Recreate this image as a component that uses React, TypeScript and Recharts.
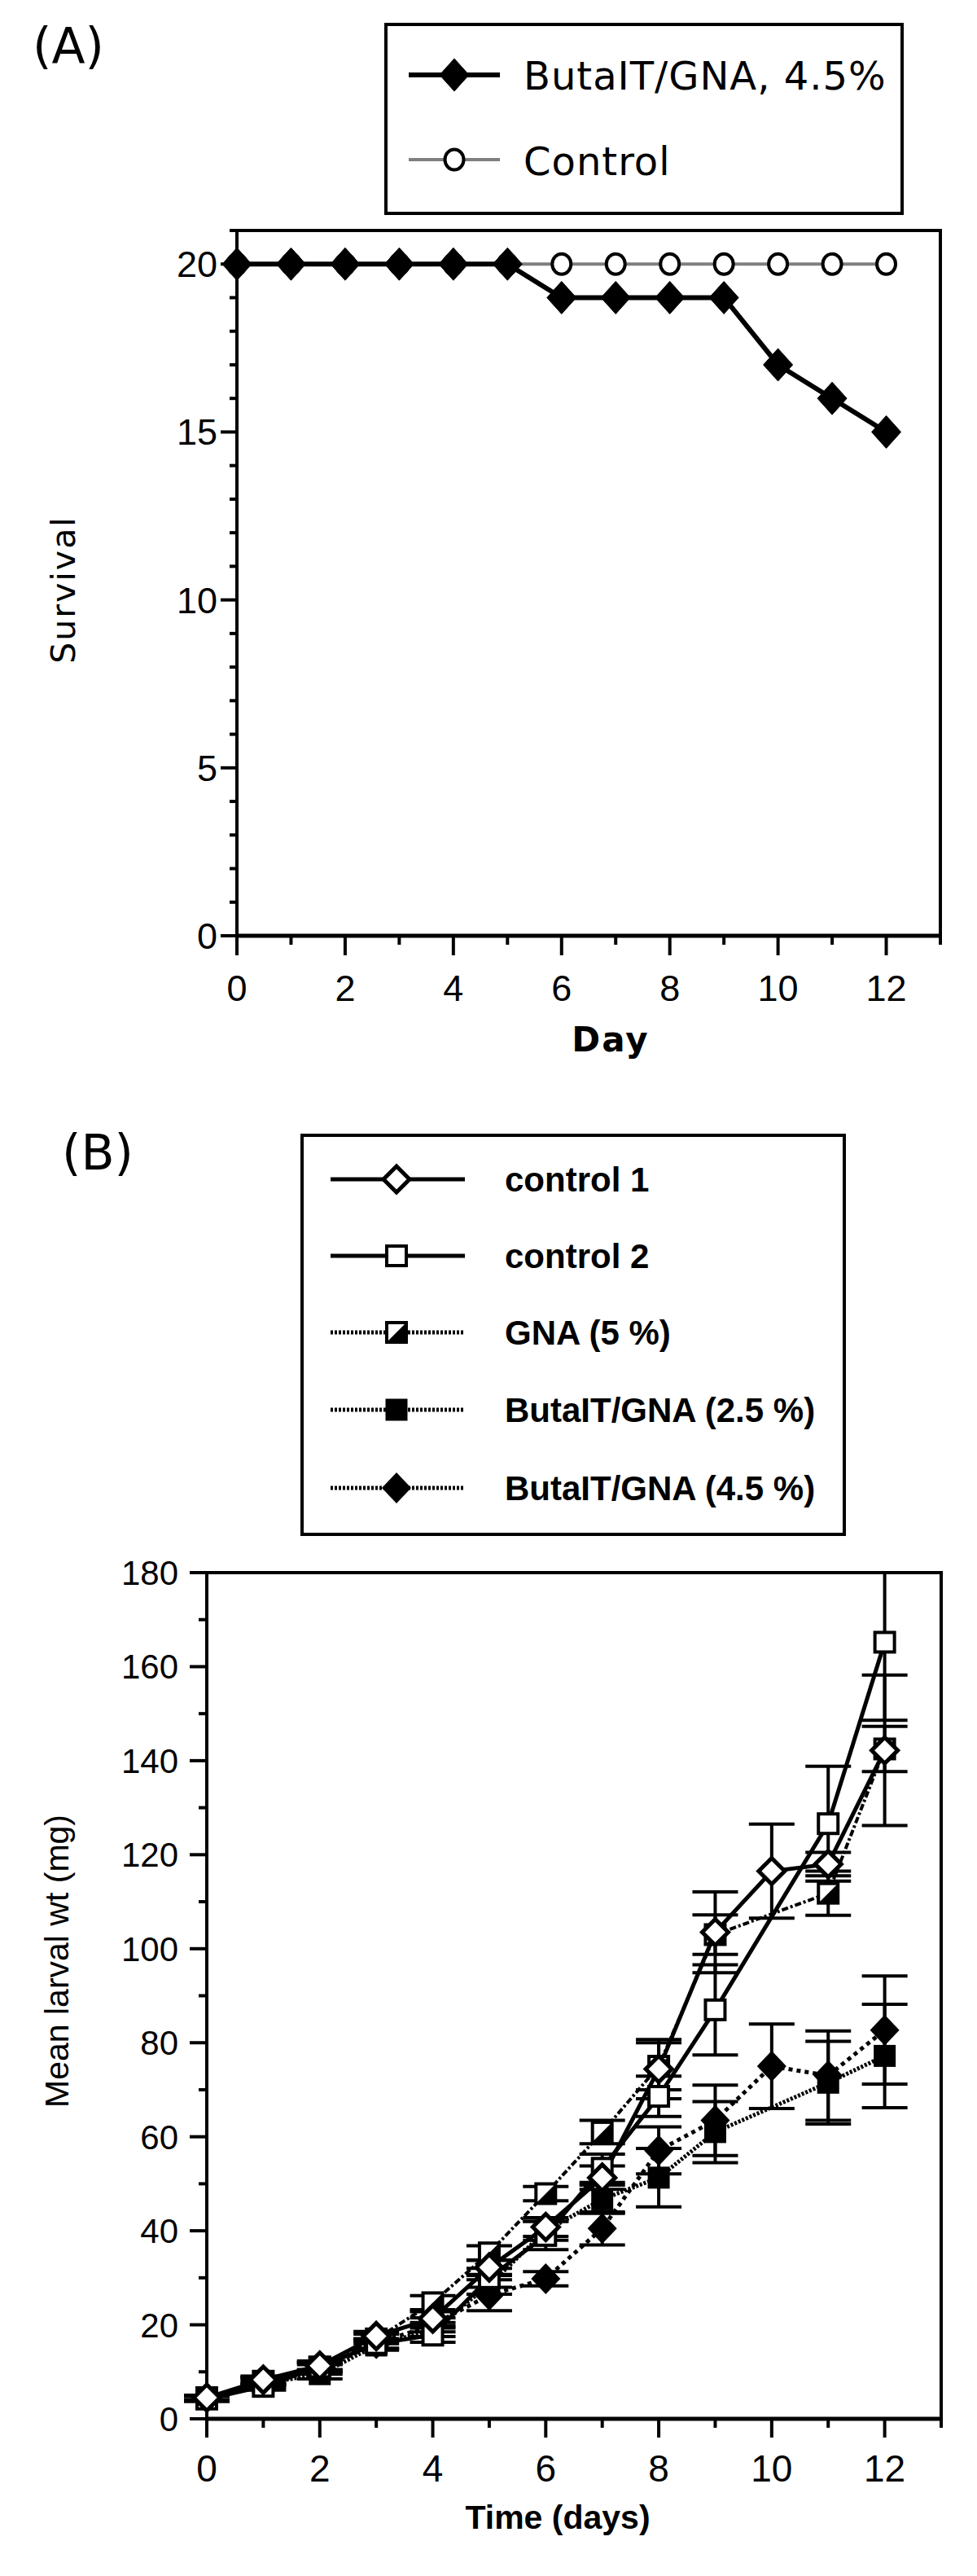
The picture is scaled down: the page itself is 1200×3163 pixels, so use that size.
import React from 'react';
import { LineChart, Line, XAxis, YAxis, ErrorBar, ReferenceArea, Legend } from 'recharts';

// ---------- Panel A data ----------
const daysA = [0, 1, 2, 3, 4, 5, 6, 7, 8, 9, 10, 11, 12];
const butaitSurvival = [20, 20, 20, 20, 20, 20, 19, 19, 19, 19, 17, 16, 15];
const controlSurvival = [20, 20, 20, 20, 20, 20, 20, 20, 20, 20, 20, 20, 20];
const survivalTicks = [0, 1, 2, 3, 4, 5, 6, 7, 8, 9, 10, 11, 12, 13, 14, 15, 16, 17, 18, 19, 20, 21];
const dayTicks = [0, 1, 2, 3, 4, 5, 6, 7, 8, 9, 10, 11, 12, 13];
const legendNamesA = ['ButaIT/GNA, 4.5%', 'Control'];

// ---------- Panel B data ----------
const daysB = [0, 1, 2, 3, 4, 5, 6, 7, 8, 9, 10, 11, 12];
const control1 = [4.5, 8.3, 11.3, 17.6, 21.3, 32.2, 40.8, 51.3, 74.4, 103.5, 116.5, 118, 142.2];
const control1Err = [0.5, 0.8, 1, 1, 1.5, 1.5, 2, 2.5, 6.3, 8.6, 10, 2.5, 16];
const control2 = [4.2, 6.9, 11, 16, 17.8, 30, 39, 53.3, 68.6, 87, null, 126.6, 165.2];
const control2Err: any[] = [0.5, 0.8, 1, 1, 1.5, 2, 3, 3, 4.3, 9.6, null, 12.2, [16.6, 14.8]];
const gna5 = [4.5, 8, 11, 17, 24.7, 35.3, 47.9, 61, 75, 103, null, 111.8, 142.5];
const gna5Err = [0.5, 0.8, 1, 1, 1.5, 1.5, 1.5, 2.5, 5, 4.2, null, 4.7, 4.8];
const bt25 = [4.5, 7.5, 9.5, 15.6, 19, 28.5, 40, 46.7, 51.3, 61, null, 71.5, 77.2];
const bt25Err = [0.5, 0.8, 1, 1, 1.5, 2, 2, 3, 6.2, 6.5, null, 8.8, 11];
const bt45 = [4.5, 8, 10.5, 16, 20, 26.3, 29.8, 40.5, 57.1, 63.5, 75, 73, 82.7];
const bt45Err = [0.5, 0.8, 1, 1, 1.5, 3.3, 1.5, 3.5, 5, 7.5, 9, 9.5, 11.5];
const weightTicks = [0, 10, 20, 30, 40, 50, 60, 70, 80, 90, 100, 110, 120, 130, 140, 150, 160, 170, 180];
const legendNamesB = ['control 1', 'control 2', 'GNA (5 %)', 'ButaIT/GNA (2.5 %)', 'ButaIT/GNA (4.5 %)'];

const rowsA = daysA.map((d, i) => ({ day: d, butait: butaitSurvival[i], control: controlSurvival[i] }));
const rowsB = daysB.map((d, i) => ({
  day: d,
  c1: control1[i], c1Err: control1Err[i],
  c2: control2[i], c2Err: control2Err[i],
  gna: gna5[i], gnaErr: gna5Err[i],
  b25: bt25[i], b25Err: bt25Err[i],
  b45: bt45[i], b45Err: bt45Err[i],
}));

const FONT_A = 'DejaVu Sans';
const FONT_A_NUM = 'Liberation Sans';
const FONT_B = 'Liberation Sans';

const dia = (cx: number, cy: number, hw: number, hh: number) =>
  `M${cx},${cy - hh}L${cx + hw},${cy}L${cx},${cy + hh}L${cx - hw},${cy}Z`;

const Marker = ({ kind, cx, cy }: any) => {
  switch (kind) {
    case 'fdA':
      return <path d={dia(cx, cy, 18, 20)} fill="#000" stroke="#000" strokeWidth={1} />;
    case 'ocA':
      return <ellipse cx={cx} cy={cy} rx={11.5} ry={12.5} fill="#fff" stroke="#000" strokeWidth={4} />;
    case 'odB':
      return <path d={dia(cx, cy, 16, 16)} fill="#fff" stroke="#000" strokeWidth={5} strokeLinejoin="miter" />;
    case 'osB':
      return <rect x={cx - 12} y={cy - 12} width={24} height={24} fill="#fff" stroke="#000" strokeWidth={4} />;
    case 'hsB':
      return (
        <g>
          <rect x={cx - 12} y={cy - 12} width={24} height={24} fill="#fff" />
          <path d={`M${cx + 12},${cy - 12}L${cx + 12},${cy + 12}L${cx - 12},${cy + 12}Z`} fill="#000" />
          <rect x={cx - 12} y={cy - 12} width={24} height={24} fill="none" stroke="#000" strokeWidth={4} />
        </g>
      );
    case 'fsB':
      return <rect x={cx - 13.5} y={cy - 13.5} width={27} height={27} fill="#000" />;
    case 'fdB':
      return <path d={dia(cx, cy, 18, 19)} fill="#000" />;
    default:
      return null;
  }
};

const makeDot = (kind: string) => (props: any) => {
  const { cx, cy, index } = props;
  const k = `${kind}-${index}`;
  if (cx == null || cy == null || Number.isNaN(cx) || Number.isNaN(cy)) return <g key={k} />;
  return <g key={k}><Marker kind={kind} cx={cx} cy={cy} /></g>;
};

// ---------- ticks ----------
const XTickA = (props: any) => {
  const { x, y, payload } = props;
  const v = payload.value;
  const major = v % 2 === 0 && v <= 12;
  return (
    <g>
      <line x1={x} x2={x} y1={y} y2={y + (major ? 24 : 11)} stroke="#000" strokeWidth={4} />
      {major && (
        <text x={x} y={y + 80} textAnchor="middle" fontFamily={FONT_A_NUM} fontSize={45} fill="#000">{v}</text>
      )}
    </g>
  );
};

const YTickA = (props: any) => {
  const { x, y, payload } = props;
  const v = payload.value;
  const major = v % 5 === 0;
  return (
    <g>
      <line x1={x} x2={x - (major ? 20 : 9)} y1={y} y2={y} stroke="#000" strokeWidth={4} />
      {major && (
        <text x={x - 24} y={y + 16} textAnchor="end" fontFamily={FONT_A_NUM} fontSize={45} fill="#000">{v}</text>
      )}
    </g>
  );
};

const XTickB = (props: any) => {
  const { x, y, payload } = props;
  const v = payload.value;
  const major = v % 2 === 0 && v <= 12;
  return (
    <g>
      <line x1={x} x2={x} y1={y} y2={y + (major ? 23 : 11)} stroke="#000" strokeWidth={4} />
      {major && (
        <text x={x} y={y + 77} textAnchor="middle" fontFamily={FONT_B} fontSize={46} fill="#000">{v}</text>
      )}
    </g>
  );
};

const YTickB = (props: any) => {
  const { x, y, payload } = props;
  const v = payload.value;
  const major = v % 20 === 0;
  return (
    <g>
      <line x1={x} x2={x - (major ? 21 : 10)} y1={y} y2={y} stroke="#000" strokeWidth={4} />
      {major && (
        <text x={x - 35} y={y + 15} textAnchor="end" fontFamily={FONT_B} fontSize={42} fill="#000">{v}</text>
      )}
    </g>
  );
};

// ---------- legends ----------
const LegendA = () => (
  <svg width={640} height={238} style={{ display: 'block', overflow: 'visible' }}>
    <rect x={2} y={2} width={634} height={232} fill="#fff" stroke="#000" strokeWidth={4} />
    <line x1={30} x2={142} y1={64} y2={64} stroke="#000" strokeWidth={6} />
    <Marker kind="fdA" cx={86} cy={64} />
    <text x={171} y={82} fontFamily={FONT_A} fontSize={48} letterSpacing={1} fill="#000">{legendNamesA[0]}</text>
    <line x1={30} x2={142} y1={168} y2={168} stroke="#7f7f7f" strokeWidth={4} />
    <Marker kind="ocA" cx={86} cy={168} />
    <text x={171} y={187} fontFamily={FONT_A} fontSize={48} letterSpacing={1} fill="#000">{legendNamesA[1]}</text>
  </svg>
);

const legendStylesB = [
  { kind: 'odB', dash: undefined, w: 5 },
  { kind: 'osB', dash: undefined, w: 5 },
  { kind: 'hsB', dash: '3 2', w: 5 },
  { kind: 'fsB', dash: '3 2', w: 5 },
  { kind: 'fdB', dash: '3 2', w: 5 },
];
const legendRowsB = [56, 150, 244, 339, 435];

const LegendB = () => (
  <svg width={672} height={496} style={{ display: 'block', overflow: 'visible' }}>
    <rect x={2} y={2} width={666} height={490} fill="#fff" stroke="#000" strokeWidth={4} />
    {legendNamesB.map((name, i) => {
      const y = legendRowsB[i];
      const st = legendStylesB[i];
      return (
        <g key={name}>
          <line x1={37} x2={202} y1={y} y2={y} stroke="#000" strokeWidth={st.w} strokeDasharray={st.dash} />
          <Marker kind={st.kind} cx={118} cy={y} />
          <text x={251} y={y + 15} fontFamily={FONT_B} fontWeight="bold" fontSize={42} fill="#000">{name}</text>
        </g>
      );
    })}
  </svg>
);

// ---------- axis titles ----------
const SurvivalTitle = () => (
  <text transform="translate(92,724) rotate(-90)" textAnchor="middle" fontFamily={FONT_A} fontSize={41} letterSpacing={2} fill="#000">Survival</text>
);
const DayTitle = () => (
  <text x={750} y={1291} textAnchor="middle" fontFamily={FONT_A} fontWeight="bold" fontSize={42} letterSpacing={2} fill="#000">Day</text>
);
const WeightTitle = () => (
  <text transform="translate(84,1068) rotate(-90)" textAnchor="middle" fontFamily={FONT_B} fontSize={41} fill="#000">Mean larval wt (mg)</text>
);
const TimeTitle = () => (
  <text x={685} y={1765} textAnchor="middle" fontFamily={FONT_B} fontWeight="bold" fontSize={41} fill="#000">Time (days)</text>
);

const ChartA = () => (
  <LineChart width={1200} height={1320} data={rowsA} margin={{ top: 283, right: 45, bottom: 21, left: 91 }}>
    <ReferenceArea x1={0} x2={13} y1={0} y2={21} fill="none" fillOpacity={0} stroke="#000" strokeWidth={4} ifOverflow="visible" />
    <XAxis
      type="number" dataKey="day" domain={[0, 13]} ticks={dayTicks} interval={0}
      height={150} tickSize={0} tickMargin={0} tickLine={false}
      axisLine={{ stroke: '#000', strokeWidth: 5 }} tick={<XTickA />}
      label={{ content: () => <DayTitle /> }}
    />
    <YAxis
      type="number" domain={[0, 21]} ticks={survivalTicks} interval={0}
      width={200} tickSize={0} tickMargin={0} tickLine={false}
      axisLine={{ stroke: '#000', strokeWidth: 4 }} tick={<YTickA />}
      label={{ content: () => <SurvivalTitle /> }}
    />
    <Legend
      layout="horizontal" verticalAlign="middle" align="center"
      wrapperStyle={{ left: 472, top: 28, width: 640, height: 238 }}
      content={() => <LegendA />}
    />
    <Line dataKey="control" name={legendNamesA[1]} stroke="#7f7f7f" strokeWidth={4} isAnimationActive={false} dot={makeDot('ocA')} activeDot={false} />
    <Line dataKey="butait" name={legendNamesA[0]} stroke="#000" strokeWidth={6} isAnimationActive={false} dot={makeDot('fdA')} activeDot={false} />
  </LineChart>
);

const errProps = { width: 28, strokeWidth: 4, stroke: '#000', direction: 'y' as const };

const ChartB = () => (
  <LineChart width={1200} height={1823} data={rowsB} margin={{ top: 591, right: 44, bottom: 43, left: 54 }}>
    <ReferenceArea x1={0} x2={13} y1={0} y2={180} fill="none" fillOpacity={0} stroke="#000" strokeWidth={4} ifOverflow="visible" />
    <XAxis
      type="number" dataKey="day" domain={[0, 13]} ticks={dayTicks} interval={0}
      height={150} tickSize={0} tickMargin={0} tickLine={false}
      axisLine={{ stroke: '#000', strokeWidth: 5 }} tick={<XTickB />}
      label={{ content: () => <TimeTitle /> }}
    />
    <YAxis
      type="number" domain={[0, 180]} ticks={weightTicks} interval={0}
      width={200} tickSize={0} tickMargin={0} tickLine={false}
      axisLine={{ stroke: '#000', strokeWidth: 4 }} tick={<YTickB />}
      label={{ content: () => <WeightTitle /> }}
    />
    <Legend
      layout="horizontal" verticalAlign="middle" align="center"
      wrapperStyle={{ left: 369, top: 52, width: 672, height: 496 }}
      content={() => <LegendB />}
    />
    <Line dataKey="gna" name={legendNamesB[2]} stroke="#000" strokeWidth={4} strokeDasharray="8 3 3 3" connectNulls isAnimationActive={false} dot={makeDot('hsB')} activeDot={false}>
      <ErrorBar dataKey="gnaErr" {...errProps} />
    </Line>
    <Line dataKey="b25" name={legendNamesB[3]} stroke="#000" strokeWidth={5} strokeDasharray="3 2" connectNulls isAnimationActive={false} dot={makeDot('fsB')} activeDot={false}>
      <ErrorBar dataKey="b25Err" {...errProps} />
    </Line>
    <Line dataKey="b45" name={legendNamesB[4]} stroke="#000" strokeWidth={5} strokeDasharray="5 5" connectNulls isAnimationActive={false} dot={makeDot('fdB')} activeDot={false}>
      <ErrorBar dataKey="b45Err" {...errProps} />
    </Line>
    <Line dataKey="c2" name={legendNamesB[1]} stroke="#000" strokeWidth={5} connectNulls isAnimationActive={false} dot={makeDot('osB')} activeDot={false}>
      <ErrorBar dataKey="c2Err" {...errProps} />
    </Line>
    <Line dataKey="c1" name={legendNamesB[0]} stroke="#000" strokeWidth={5} connectNulls isAnimationActive={false} dot={makeDot('odB')} activeDot={false}>
      <ErrorBar dataKey="c1Err" {...errProps} />
    </Line>
  </LineChart>
);

export default function App() {
  return (
    <div style={{ position: 'absolute', left: 0, top: 0, width: 1200, height: 3163, background: '#fff', overflow: 'hidden' }}>
      <svg style={{ position: 'absolute', left: 0, top: 0 }} width={1200} height={1500}>
        <text x={40} y={77} fontFamily={FONT_A} fontSize={60} fill="#000">(A)</text>
        <text x={76} y={1436} fontFamily={FONT_A} fontSize={60} fill="#000">(B)</text>
      </svg>
      <div style={{ position: 'absolute', left: 0, top: 0 }}>
        <ChartA />
      </div>
      <div style={{ position: 'absolute', left: 0, top: 1340 }}>
        <ChartB />
      </div>
    </div>
  );
}
